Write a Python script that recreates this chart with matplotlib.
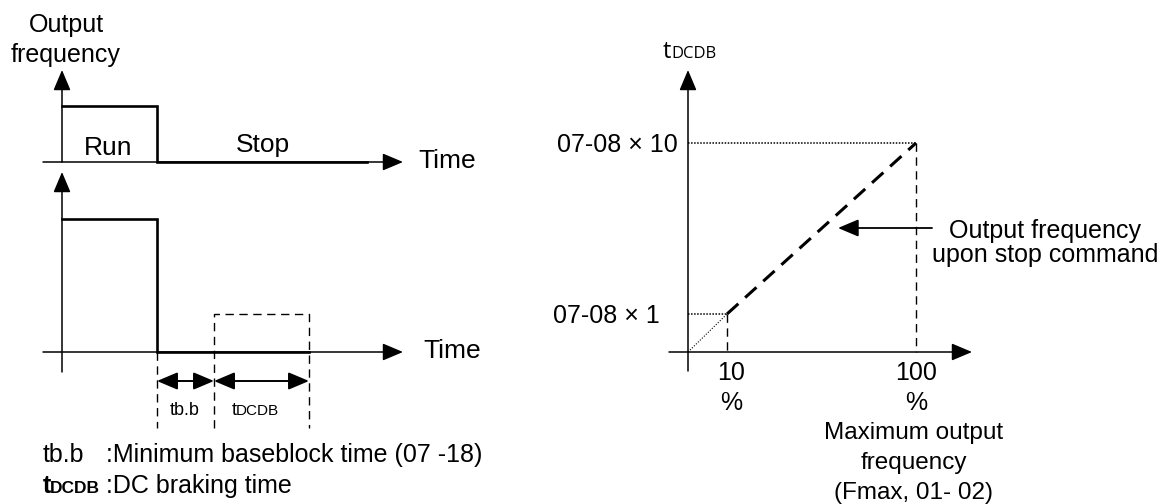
import matplotlib
matplotlib.use("Agg")
import matplotlib.pyplot as plt

plt.rcParams['font.family'] = ['Liberation Sans', 'DejaVu Sans']

# schematic data, in pixel coordinates of the drawing (y grows downward)
run_wave_x = [62, 157, 157, 367]
run_wave_y = [106, 106, 162, 162]
out_wave_x = [62, 157, 157, 309]
out_wave_y = [219, 219, 352, 352]
dc_box_x = [214, 214, 309, 309]
dc_box_y = [428, 314, 314, 428]
tbb_span = [157, 214]
tdcdb_span = [214, 309]

# right chart: frequency % -> braking time
freq_pct = [10, 100]
freq_px = [727, 916]
time_labels = ['07-08 × 1', '07-08 × 10']
time_px = [314, 143]
origin = (688, 352)

fig = plt.figure(figsize=(11.66, 5.04), dpi=100)
ax = fig.add_axes([0, 0, 1, 1])
ax.set_xlim(0, 1166)
ax.set_ylim(504, 0)
ax.axis('off')

K = 'black'
AX_LW = 1.1
FS = 18
FS_L = 19


def arrow(x0, y0, x1, y1, lw=AX_LW, style='-|>,head_length=0.9,head_width=0.38'):
    ax.annotate('', xy=(x1, y1), xytext=(x0, y0),
                arrowprops=dict(arrowstyle=style, color=K, lw=lw,
                                shrinkA=0, shrinkB=0, mutation_scale=14))


# ---- left: top axes (run command)
arrow(62, 162, 62, 70)
arrow(43, 162, 403, 162)
ax.plot(run_wave_x, run_wave_y, color=K, lw=1.9, solid_joinstyle='miter')
ax.text(108, 155, 'Run', fontsize=FS_L, ha='center', va='baseline')
ax.text(263, 152, 'Stop', fontsize=FS_L, ha='center', va='baseline')
ax.text(418, 168, 'Time', fontsize=FS_L, ha='left', va='baseline')
ax.text(66, 32, 'Output', fontsize=FS, ha='center', va='baseline')
ax.text(66, 62, 'frequency', fontsize=FS, ha='center', va='baseline')

# ---- left: bottom axes (output)
arrow(62, 372, 62, 172)
arrow(43, 352, 403, 352)
ax.plot(out_wave_x, out_wave_y, color=K, lw=1.9, solid_joinstyle='miter')
ax.text(423, 358, 'Time', fontsize=FS_L, ha='left', va='baseline')

ax.plot(dc_box_x, dc_box_y, color=K, lw=1.0, dashes=(6, 4))
ax.plot([157, 157], [352, 428], color=K, lw=1.0, dashes=(6, 4))

both = '<|-|>,head_length=0.9,head_width=0.38'
arrow(tbb_span[0], 381, tbb_span[1], 381, lw=1.4, style=both)
arrow(tdcdb_span[0], 381, tdcdb_span[1], 381, lw=1.4, style=both)
ax.text(185, 415, 'tb.b', fontsize=13, ha='center', va='baseline')
ax.text(232, 415, 't', fontsize=13, ha='left', va='baseline')
ax.text(236, 415, 'DCDB', fontsize=11, ha='left', va='baseline')

ax.text(43, 462, 'tb.b', fontsize=FS, ha='left', va='baseline')
ax.text(106, 462, ':Minimum baseblock time (07 -18)', fontsize=FS,
        ha='left', va='baseline')
ax.text(43, 493, 't', fontsize=FS, ha='left', va='baseline',
        fontweight='bold')
ax.text(50, 493, 'DCDB', fontsize=12.5, ha='left', va='baseline',
        fontweight='bold')
ax.text(106, 493, ':DC braking time', fontsize=FS, ha='left', va='baseline')

# ---- right chart
arrow(origin[0], 371, origin[0], 70)
arrow(669, origin[1], 972, origin[1])
ax.text(663, 58, 't', fontsize=17, ha='left', va='baseline',
        family=['Open Sans', 'DejaVu Sans'])
ax.text(671, 58, 'DCDB', fontsize=12, ha='left', va='baseline',
        family=['Open Sans', 'DejaVu Sans'])

# dotted guides to the y labels
for fx, ty in zip(freq_px, time_px):
    ax.plot([origin[0], fx], [ty, ty], color=K, lw=1.1, ls=(0, (1, 1)))
# dashed guides down to x axis
for fx, ty in zip(freq_px, time_px):
    ax.plot([fx, fx], [ty, origin[1]], color=K, lw=1.0, dashes=(6, 4))
# thin dotted ramp below 10 %
ax.plot([origin[0], freq_px[0]], [origin[1], time_px[0]], color=K, lw=0.8,
        ls=(0, (1, 1.5)))
# thick dashed ramp from 10 % to 100 %
ax.plot(freq_px, time_px, color=K, lw=2.2, dashes=(5, 3))

for lab, ty, xr in zip(time_labels, time_px, [660, 678]):
    ax.text(xr, ty + 9, lab, fontsize=FS, ha='right', va='baseline')

for p, fx in zip(freq_pct, freq_px):
    cx = fx + (4 if p == 10 else 0)
    ax.text(cx, 380, str(p), fontsize=FS, ha='center', va='baseline')
    ax.text(cx, 410, '%', fontsize=FS, ha='center', va='baseline')

ax.text(914, 439, 'Maximum output', fontsize=17.5, ha='center', va='baseline')
ax.text(914, 469, 'frequency', fontsize=17.5, ha='center', va='baseline')
ax.text(914, 499, '(Fmax, 01- 02)', fontsize=17.5, ha='center', va='baseline')

arrow(932, 228, 838, 228, lw=1.3)
ax.text(1045, 238, 'Output frequency', fontsize=FS, ha='center',
        va='baseline')
ax.text(1045, 262, 'upon stop command', fontsize=FS, ha='center',
        va='baseline')

fig.savefig('out.png', dpi=100, facecolor='white')
